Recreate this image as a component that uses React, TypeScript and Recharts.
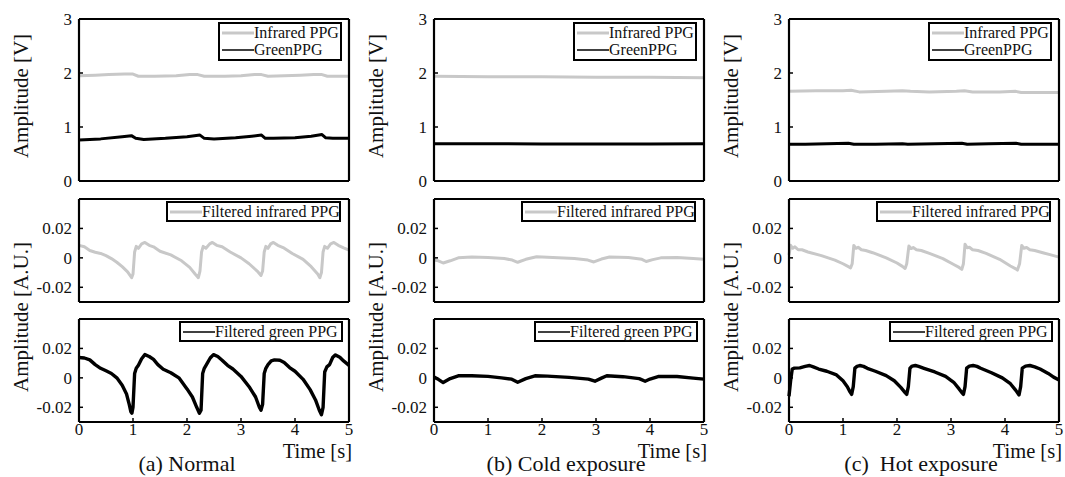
import React from 'react';
import { LineChart, Line, XAxis, YAxis, Legend, Label } from 'recharts';

const FONT = '"Liberation Serif", "DejaVu Serif", "Noto Serif", "Times New Roman", serif';
const GREY = '#c8c8c8';
const BLACK = '#000000';

// ---------- ticks, domains, texts ----------
const TIME_TICKS = [0, 1, 2, 3, 4, 5];
const INNER_TIME_TICKS = [1, 2, 3, 4];
const RAW_TICKS = [0, 1, 2, 3];
const FILT_TICKS = [-0.02, 0, 0.02];
const RAW_DOMAIN = [0, 3];
const FILT_DOMAIN = [-0.03, 0.04];
const TIME_DOMAIN = [0, 5];
const CAPTIONS = ['(a) Normal', '(b) Cold exposure', '(c)  Hot exposure'];
const RAW_LEGEND = ['Infrared PPG', 'GreenPPG'];
const IR_LEGEND = 'Filtered infrared PPG';
const GREEN_LEGEND = 'Filtered green PPG';
const Y_LABEL_RAW = 'Amplitude [V]';
const Y_LABEL_FILT = 'Amplitude [A.U.]';
const X_LABEL = 'Time [s]';

// ---------- (a) Normal ----------
const aRawIrT = [0, 0.3, 0.55, 0.85, 1.0, 1.1, 1.4, 1.8, 2.05, 2.2, 2.32, 2.7, 3.0, 3.25, 3.38, 3.5, 3.8, 4.1, 4.35, 4.5, 4.6, 5.0];
const aRawIrV = [1.95, 1.96, 1.97, 1.98, 1.98, 1.94, 1.94, 1.95, 1.97, 1.97, 1.94, 1.94, 1.95, 1.97, 1.97, 1.94, 1.95, 1.96, 1.97, 1.97, 1.94, 1.94];
const aRawGT = [0, 0.4, 0.8, 0.97, 1.05, 1.2, 1.6, 2.0, 2.24, 2.32, 2.5, 2.9, 3.2, 3.38, 3.45, 3.6, 4.0, 4.3, 4.5, 4.57, 4.7, 5.0];
const aRawGV = [0.76, 0.78, 0.82, 0.84, 0.79, 0.77, 0.79, 0.82, 0.85, 0.79, 0.78, 0.8, 0.83, 0.85, 0.79, 0.79, 0.8, 0.83, 0.86, 0.8, 0.79, 0.79];
const aFiltIrT = [0, 0.1, 0.2, 0.3, 0.4, 0.5, 0.6, 0.7, 0.8, 0.9, 0.975, 1.0, 1.03, 1.06, 1.1, 1.16, 1.22, 1.3, 1.38, 1.5, 1.7, 1.9, 2.05, 2.15, 2.21, 2.24, 2.27, 2.3, 2.35, 2.42, 2.47, 2.55, 2.65, 2.8, 3.0, 3.15, 3.3, 3.37, 3.4, 3.43, 3.46, 3.5, 3.55, 3.6, 3.68, 3.78, 3.95, 4.15, 4.3, 4.42, 4.46, 4.49, 4.52, 4.55, 4.6, 4.66, 4.72, 4.8, 4.9, 5.0];
const aFiltIrV = [0.0085, 0.0075, 0.005, 0.0038, 0.003, 0.0015, -0.0005, -0.003, -0.006, -0.0095, -0.0135, -0.011, 0.004, 0.0078, 0.0065, 0.0095, 0.0105, 0.0085, 0.0075, 0.0045, 0.002, -0.002, -0.0065, -0.011, -0.0135, -0.009, 0.004, 0.0078, 0.0065, 0.0095, 0.0105, 0.0085, 0.0075, 0.004, 0.0, -0.004, -0.009, -0.012, -0.009, 0.004, 0.0078, 0.0065, 0.0095, 0.0105, 0.0085, 0.007, 0.003, -0.001, -0.006, -0.011, -0.0135, -0.01, 0.004, 0.0078, 0.0065, 0.0095, 0.0105, 0.0085, 0.0068, 0.0052];
const aFiltGT = [0, 0.1, 0.2, 0.3, 0.4, 0.5, 0.6, 0.7, 0.8, 0.88, 0.93, 0.96, 0.98, 1.0, 1.03, 1.06, 1.1, 1.16, 1.22, 1.3, 1.38, 1.46, 1.56, 1.7, 1.85, 2.0, 2.1, 2.18, 2.23, 2.26, 2.29, 2.32, 2.36, 2.43, 2.49, 2.57, 2.65, 2.75, 2.85, 3.0, 3.15, 3.27, 3.34, 3.37, 3.4, 3.43, 3.46, 3.5, 3.56, 3.62, 3.72, 3.8, 3.9, 4.0, 4.15, 4.28, 4.38, 4.45, 4.49, 4.52, 4.55, 4.59, 4.64, 4.7, 4.75, 4.83, 4.9, 5.0];
const aFiltGV = [0.0138, 0.0135, 0.0122, 0.009, 0.0065, 0.0048, 0.003, 0.0, -0.005, -0.011, -0.018, -0.023, -0.024, -0.02, 0.003, 0.0065, 0.0085, 0.013, 0.0158, 0.0145, 0.0125, 0.009, 0.0058, 0.0035, 0.0, -0.0075, -0.013, -0.02, -0.024, -0.022, 0.003, 0.0065, 0.009, 0.0135, 0.0158, 0.0145, 0.012, 0.0085, 0.006, 0.001, -0.006, -0.013, -0.02, -0.022, -0.018, 0.003, 0.0065, 0.009, 0.0115, 0.0122, 0.012, 0.0105, 0.007, 0.0045, -0.001, -0.008, -0.015, -0.022, -0.025, -0.02, 0.004, 0.0075, 0.009, 0.014, 0.0156, 0.014, 0.0115, 0.0085];

// ---------- (b) Cold exposure ----------
const bRawIrT = [0, 1, 2, 3, 4, 5];
const bRawIrV = [1.94, 1.93, 1.93, 1.92, 1.92, 1.91];
const bRawGT = [0, 1, 2, 3, 4, 5];
const bRawGV = [0.69, 0.69, 0.685, 0.685, 0.685, 0.69];
const bFiltIrT = [0, 0.08, 0.17, 0.3, 0.45, 0.7, 1.0, 1.3, 1.45, 1.55, 1.7, 1.9, 2.2, 2.6, 2.85, 2.96, 3.1, 3.25, 3.6, 3.85, 3.93, 4.05, 4.2, 4.5, 4.8, 5.0];
const bFiltIrV = [-0.0015, -0.002, -0.0035, -0.002, 0.0, 0.0005, 0.0002, -0.0005, -0.0015, -0.003, -0.001, 0.0008, 0.0003, -0.0005, -0.0015, -0.0028, -0.0008, 0.0006, 0.0002, -0.001, -0.0025, -0.0012, 0.0, 0.0003, -0.0005, -0.001];
const bFiltGT = [0, 0.08, 0.17, 0.3, 0.45, 0.7, 1.0, 1.25, 1.44, 1.55, 1.7, 1.87, 2.1, 2.5, 2.86, 2.98, 3.1, 3.2, 3.5, 3.8, 3.91, 4.0, 4.15, 4.5, 4.8, 5.0];
const bFiltGV = [0.0005, -0.001, -0.0032, -0.0005, 0.0014, 0.0014, 0.001, 0.0, -0.0009, -0.003, -0.0005, 0.0014, 0.0012, 0.0003, -0.0009, -0.0023, -0.0002, 0.0014, 0.0008, -0.0005, -0.0023, -0.0008, 0.0009, 0.0009, -0.0002, -0.0009];

// ---------- (c) Hot exposure ----------
const cRawIrT = [0, 0.5, 1.0, 1.15, 1.3, 1.8, 2.1, 2.25, 2.6, 3.1, 3.25, 3.4, 3.9, 4.2, 4.3, 4.5, 5.0];
const cRawIrV = [1.66, 1.67, 1.67, 1.68, 1.65, 1.66, 1.67, 1.66, 1.65, 1.66, 1.67, 1.65, 1.65, 1.66, 1.64, 1.64, 1.64];
const cRawGT = [0, 0.3, 0.7, 1.1, 1.2, 1.6, 2.1, 2.2, 2.7, 3.2, 3.3, 3.7, 4.2, 4.3, 5.0];
const cRawGV = [0.68, 0.68, 0.69, 0.7, 0.68, 0.68, 0.69, 0.68, 0.69, 0.7, 0.68, 0.69, 0.7, 0.68, 0.68];
const cFiltIrT = [0, 0.03, 0.07, 0.11, 0.17, 0.24, 0.35, 0.6, 0.85, 1.0, 1.1, 1.14, 1.17, 1.2, 1.24, 1.28, 1.34, 1.42, 1.55, 1.8, 2.0, 2.1, 2.15, 2.18, 2.22, 2.26, 2.3, 2.36, 2.45, 2.6, 2.85, 3.05, 3.15, 3.2, 3.23, 3.26, 3.3, 3.34, 3.4, 3.5, 3.65, 3.9, 4.1, 4.2, 4.23, 4.27, 4.31, 4.35, 4.4, 4.46, 4.55, 4.7, 4.85, 5.0];
const cFiltIrV = [0.002, 0.0085, 0.0065, 0.0075, 0.0055, 0.0055, 0.004, 0.0015, -0.0015, -0.004, -0.006, -0.0068, -0.004, 0.0084, 0.0065, 0.0072, 0.0055, 0.005, 0.0035, 0.0, -0.0035, -0.0058, -0.0072, -0.004, 0.008, 0.0063, 0.007, 0.0055, 0.005, 0.003, -0.0005, -0.0045, -0.0065, -0.0078, -0.004, 0.0093, 0.0068, 0.0072, 0.0055, 0.005, 0.003, -0.001, -0.0055, -0.0075, -0.0083, -0.004, 0.0084, 0.0065, 0.007, 0.0055, 0.005, 0.0035, 0.002, 0.0005];
const cFiltGT = [0, 0.03, 0.06, 0.1, 0.2, 0.3, 0.38, 0.45, 0.55, 0.7, 0.88, 1.0, 1.08, 1.13, 1.16, 1.19, 1.22, 1.26, 1.31, 1.38, 1.45, 1.6, 1.8, 1.95, 2.07, 2.15, 2.18, 2.21, 2.24, 2.28, 2.34, 2.4, 2.5, 2.7, 2.9, 3.05, 3.15, 3.2, 3.23, 3.26, 3.29, 3.34, 3.41, 3.48, 3.55, 3.75, 3.95, 4.1, 4.2, 4.26, 4.29, 4.32, 4.38, 4.46, 4.55, 4.65, 4.8, 4.9, 5.0];
const cFiltGV = [-0.0125, -0.002, 0.006, 0.0066, 0.0068, 0.0078, 0.0084, 0.0075, 0.006, 0.0045, 0.002, -0.002, -0.006, -0.0095, -0.0112, -0.006, 0.0066, 0.0078, 0.0084, 0.0078, 0.0065, 0.0045, 0.0015, -0.002, -0.0065, -0.01, -0.0112, -0.006, 0.0066, 0.008, 0.0084, 0.0078, 0.0065, 0.004, 0.001, -0.003, -0.0075, -0.01, -0.0112, -0.006, 0.0066, 0.008, 0.0084, 0.0078, 0.0065, 0.0035, 0.0, -0.004, -0.0085, -0.0116, -0.006, 0.0066, 0.008, 0.0084, 0.0075, 0.006, 0.003, 0.0005, -0.0014];

type Pt = { t: number; v: number };
const zip = (t: number[], v: number[]): Pt[] => t.map((x, i) => ({ t: x, v: v[i] }));

const COLUMNS = [
  { rawIr: zip(aRawIrT, aRawIrV), rawG: zip(aRawGT, aRawGV), filtIr: zip(aFiltIrT, aFiltIrV), filtG: zip(aFiltGT, aFiltGV), caption: CAPTIONS[0], captionX: 187 },
  { rawIr: zip(bRawIrT, bRawIrV), rawG: zip(bRawGT, bRawGV), filtIr: zip(bFiltIrT, bFiltIrV), filtG: zip(bFiltGT, bFiltGV), caption: CAPTIONS[1], captionX: 211 },
  { rawIr: zip(cRawIrT, cRawIrV), rawG: zip(cRawGT, cRawGV), filtIr: zip(cFiltIrT, cFiltIrV), filtG: zip(cFiltGT, cFiltGV), caption: CAPTIONS[2], captionX: 211 },
];

// ---------- layout ----------
const COL_W = 355;
const H = 477;
const PLOT_LEFT = 79;
const PLOT_RIGHT = 349;

type Series = { data: Pt[]; color: string; width: number };
type LegendItem = { name: string; color: string; width: number };
type Box = { left: number; top: number; width: number; height: number };

function LegendBox({ items, box }: { items: LegendItem[]; box: Box }) {
  return (
    <div
      style={{
        boxSizing: 'border-box',
        width: box.width,
        height: box.height,
        border: '2px solid #000',
        background: '#fff',
        paddingLeft: 2,
        display: 'flex',
        flexDirection: 'column',
        justifyContent: 'space-around',
        fontFamily: FONT,
        fontSize: 16,
        lineHeight: '16px',
        color: '#111',
      }}
    >
      {items.map((it) => (
        <div key={it.name} style={{ display: 'flex', alignItems: 'center', whiteSpace: 'nowrap' }}>
          <svg width={32} height={6} style={{ display: 'block', flex: 'none' }}>
            <line x1={0} y1={3} x2={32} y2={3} stroke={it.color} strokeWidth={it.width} />
          </svg>
          <span style={{ fontFamily: FONT }}>{it.name}</span>
        </div>
      ))}
    </div>
  );
}

const axisLine = { stroke: '#000', strokeWidth: 2.2 };
const tickLine = { stroke: '#000', strokeWidth: 1.5 };
const tickStyle = { fontSize: 17, fill: '#111', fontFamily: FONT, style: { fontFamily: FONT } };

function Panel(props: {
  plotTop: number;
  plotBottom: number;
  domain: number[];
  yTicks: number[];
  series: Series[];
  legend: LegendItem[];
  legendBox: Box;
  showTime: boolean;
  yLabel?: { text: string; cy: number };
  caption?: { text: string; cx: number };
}) {
  const { plotTop, plotBottom, domain, yTicks, series, legend, legendBox, showTime, yLabel, caption } = props;

  const yLabelContent = () =>
    yLabel ? (
      <text
        x={27.5}
        y={yLabel.cy}
        transform={`rotate(-90, 27.5, ${yLabel.cy})`}
        textAnchor="middle"
        fontSize={21}
        fill="#111"
        style={{ fontFamily: FONT }}
      >
        {yLabel.text}
      </text>
    ) : null;

  const xLabelContent = () =>
    showTime && caption ? (
      <g>
        <text x={352} y={457.5} textAnchor="end" fontSize={20.5} fill="#111" style={{ fontFamily: FONT }}>
          {X_LABEL}
        </text>
        <text
          x={caption.cx}
          y={471}
          textAnchor="middle"
          fontSize={22}
          fill="#111"
          style={{ whiteSpace: 'pre', fontFamily: FONT }}
        >
          {caption.text}
        </text>
      </g>
    ) : null;

  return (
    <div style={{ position: 'absolute', left: 0, top: 0 }}>
      <LineChart
        width={COL_W}
        height={H}
        margin={{ top: plotTop - 1, bottom: H - plotBottom - 1, left: 0, right: COL_W - PLOT_RIGHT - 1 }}
      >
        <XAxis
          xAxisId="b"
          dataKey="t"
          type="number"
          domain={TIME_DOMAIN}
          ticks={showTime ? TIME_TICKS : INNER_TIME_TICKS}
          interval={0}
          height={1}
          axisLine={axisLine}
          tickLine={tickLine}
          tickSize={-4}
          tickMargin={5}
          tick={showTime ? tickStyle : false}
          label={<Label content={xLabelContent} />}
        />
        <XAxis
          xAxisId="t"
          orientation="top"
          type="number"
          domain={TIME_DOMAIN}
          ticks={INNER_TIME_TICKS}
          interval={0}
          height={1}
          axisLine={axisLine}
          tickLine={tickLine}
          tickSize={-4}
          tick={false}
        />
        <YAxis
          yAxisId="l"
          type="number"
          domain={domain}
          ticks={yTicks}
          interval={0}
          width={PLOT_LEFT}
          axisLine={axisLine}
          tickLine={tickLine}
          tickSize={-4}
          tickMargin={11}
          tick={tickStyle}
          label={<Label content={yLabelContent} />}
        />
        <YAxis
          yAxisId="r"
          orientation="right"
          type="number"
          domain={domain}
          ticks={yTicks}
          interval={0}
          width={1}
          axisLine={axisLine}
          tickLine={tickLine}
          tickSize={-4}
          tick={false}
        />
        {series.map((s, i) => (
          <Line
            key={i}
            xAxisId="b"
            yAxisId="l"
            data={s.data}
            dataKey="v"
            type="linear"
            stroke={s.color}
            strokeWidth={s.width}
            strokeLinejoin="round"
            dot={false}
            activeDot={false}
            isAnimationActive={false}
          />
        ))}
        <Legend
          layout="vertical"
          align="center"
          verticalAlign="middle"
          wrapperStyle={{ left: legendBox.left, top: legendBox.top, width: legendBox.width, height: legendBox.height }}
          content={() => <LegendBox items={legend} box={legendBox} />}
        />
      </LineChart>
    </div>
  );
}

export default function App() {
  return (
    <div style={{ position: 'absolute', left: 0, top: 0, width: 1065, height: H, background: '#fff', overflow: 'hidden', fontFamily: FONT }}>
      {COLUMNS.map((col, ci) => (
        <div key={ci} style={{ position: 'absolute', left: ci * COL_W, top: 0, width: COL_W, height: H }}>
          <Panel
            plotTop={19}
            plotBottom={181}
            domain={RAW_DOMAIN}
            yTicks={RAW_TICKS}
            series={[
              { data: col.rawIr, color: GREY, width: 3 },
              { data: col.rawG, color: BLACK, width: 3 },
            ]}
            legend={[
              { name: RAW_LEGEND[0], color: GREY, width: 3 },
              { name: RAW_LEGEND[1], color: BLACK, width: 1.5 },
            ]}
            legendBox={{ left: 218, top: 22, width: 124, height: 39 }}
            showTime={false}
            yLabel={{ text: Y_LABEL_RAW, cy: 96 }}
          />
          <Panel
            plotTop={199}
            plotBottom={302}
            domain={FILT_DOMAIN}
            yTicks={FILT_TICKS}
            series={[{ data: col.filtIr, color: GREY, width: 3 }]}
            legend={[{ name: IR_LEGEND, color: GREY, width: 3 }]}
            legendBox={{ left: 166, top: 201, width: 175, height: 21 }}
            showTime={false}
          />
          <Panel
            plotTop={319}
            plotBottom={422}
            domain={FILT_DOMAIN}
            yTicks={FILT_TICKS}
            series={[{ data: col.filtG, color: BLACK, width: 3.4 }]}
            legend={[{ name: GREEN_LEGEND, color: BLACK, width: 1.5 }]}
            legendBox={{ left: 179, top: 321, width: 164, height: 21 }}
            showTime={true}
            yLabel={{ text: Y_LABEL_FILT, cy: 317 }}
            caption={{ text: col.caption, cx: col.captionX }}
          />
        </div>
      ))}
    </div>
  );
}
